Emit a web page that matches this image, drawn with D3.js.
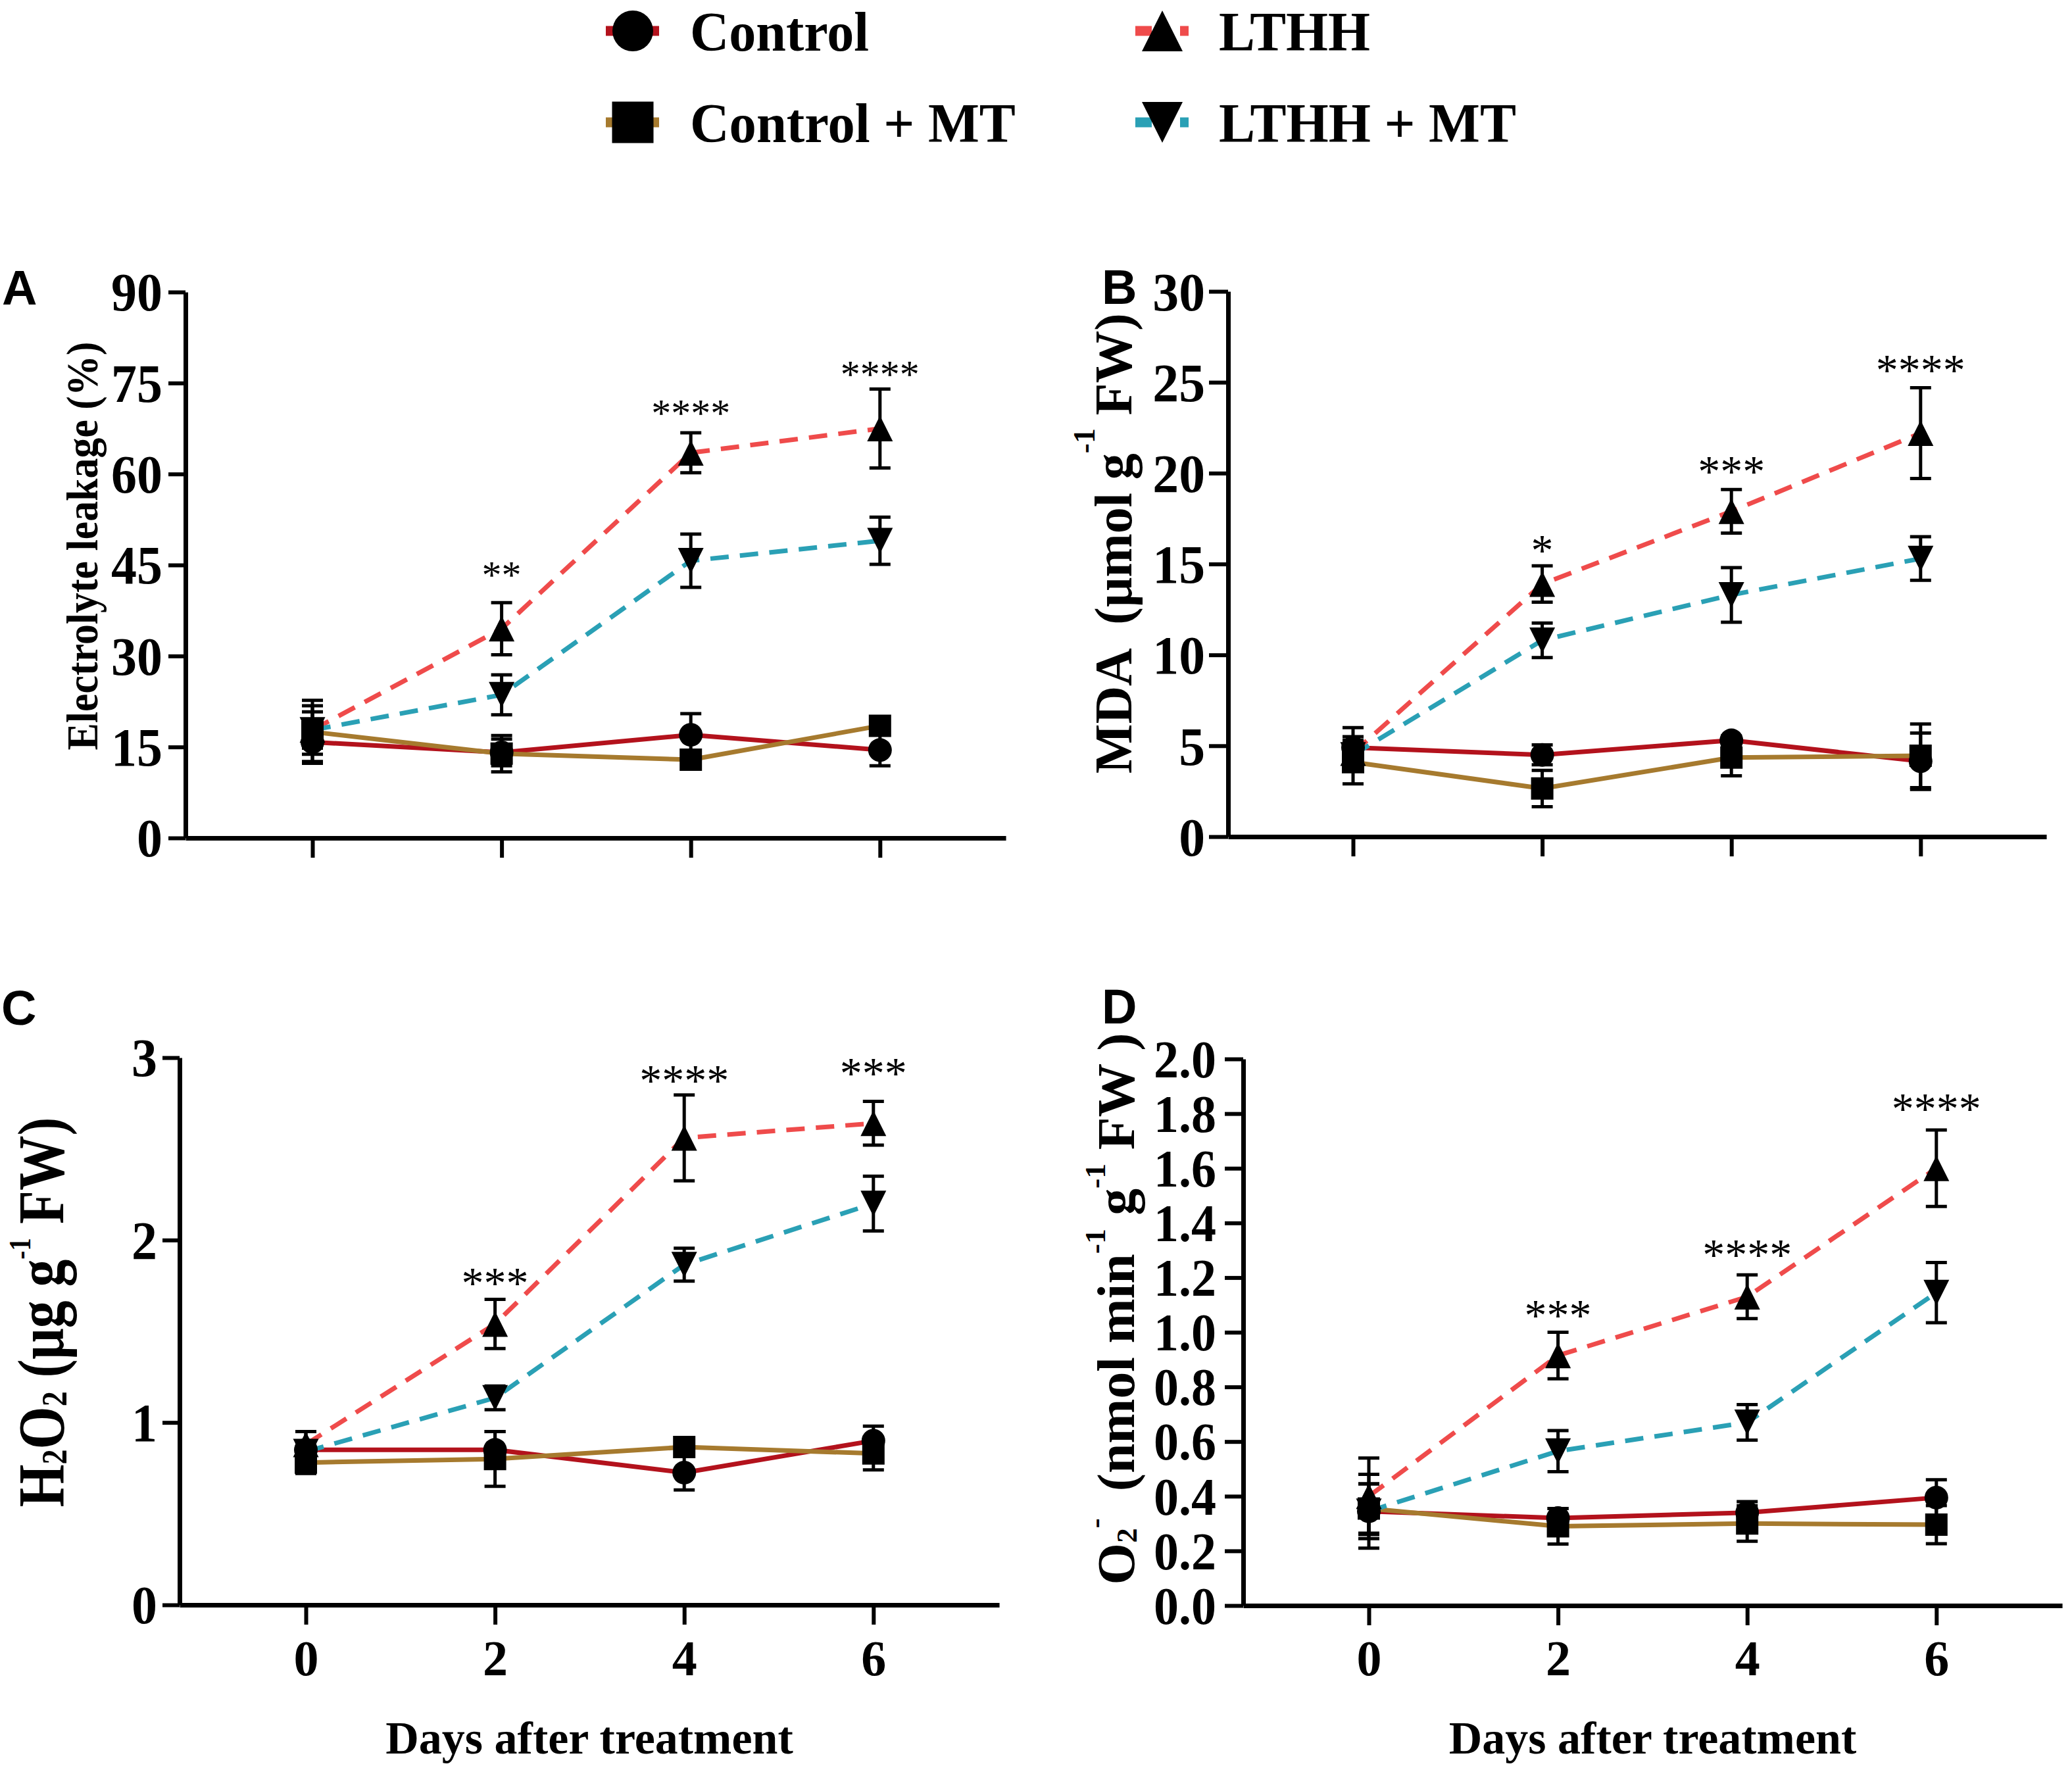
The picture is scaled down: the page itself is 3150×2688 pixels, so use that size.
<!DOCTYPE html>
<html>
<head>
<meta charset="utf-8">
<script src="https://cdn.jsdelivr.net/npm/d3@7"></script>
<style>
  html, body { margin: 0; padding: 0; background: #fff; }
  svg { display: block; }
</style>
</head>
<body>
<main></main>
<script>
// ---- data ----
const days = [0, 2, 4, 6];
const seriesNames = ["Control", "Control + MT", "LTHH", "LTHH + MT"];
const starDays = [2, 4, 6];

// A: electrolyte leakage (%), rows follow seriesNames
const leakageMean = [
  [15.8, 14.1, 17.0, 14.5],
  [17.5, 13.9, 12.9, 18.5],
  [17.8, 34.5, 63.5, 67.5],
  [17.8, 23.6, 45.7, 49.0]
];
const leakageErr = [
  [3.2, 2.2, 3.5, 2.6],
  [5.2, 3.0, 1.0, 1.5],
  [4.0, 4.3, 3.3, 6.5],
  [3.0, 3.3, 4.4, 3.9]
];
const leakageTicks = [0, 15, 30, 45, 60, 75, 90];
const leakageStars = ["**", "****", "****"];
const leakageStarLevels = [44.3, 70.9, 77.3];

// B: MDA (umol g-1 FW)
const mdaMean = [
  [4.9, 4.5, 5.3, 4.15],
  [4.1, 2.65, 4.35, 4.45],
  [4.6, 13.9, 17.9, 22.2],
  [4.5, 10.8, 13.3, 15.3]
];
const mdaErr = [
  [1.1, 0.55, 0.25, 1.55],
  [1.2, 1.0, 1.0, 1.75],
  [0.9, 1.0, 1.2, 2.5],
  [0.7, 0.95, 1.5, 1.2]
];
const mdaTicks = [0, 5, 10, 15, 20, 25, 30];
const mdaStars = ["*", "***", "****"];
const mdaStarLevels = [16.1, 20.45, 26.0];

// C: H2O2 (ug g-1 FW)
const h2o2Mean = [
  [0.85, 0.85, 0.725, 0.9],
  [0.78, 0.8, 0.865, 0.83],
  [0.88, 1.54, 2.56, 2.64],
  [0.84, 1.135, 1.865, 2.2]
];
const h2o2Err = [
  [0.1, 0.1, 0.095, 0.08],
  [0.06, 0.15, 0.04, 0.09],
  [0.07, 0.135, 0.235, 0.12],
  [0.05, 0.065, 0.09, 0.15]
];
const h2o2Ticks = [0, 1, 2, 3];
const h2o2Stars = ["***", "****", "***"];
const h2o2StarLevels = [1.80, 2.91, 2.95];

// D: O2- (nmol min-1 g-1 FW)
const o2Mean = [
  [0.345, 0.32, 0.34, 0.395],
  [0.355, 0.29, 0.30, 0.296],
  [0.40, 0.915, 1.13, 1.60],
  [0.345, 0.565, 0.67, 1.145]
];
const o2Err = [
  [0.1, 0.035, 0.04, 0.065],
  [0.09, 0.065, 0.065, 0.07],
  [0.14, 0.085, 0.08, 0.14],
  [0.135, 0.075, 0.065, 0.11]
];
const o2Ticks = [0, 0.2, 0.4, 0.6, 0.8, 1.0, 1.2, 1.4, 1.6, 1.8, 2.0];
const o2Stars = ["***", "****", "****"];
const o2StarLevels = [1.085, 1.307, 1.84];

// axis titles, split in normal / sub / sup pieces
const leakageTitle = [{ t: "Electrolyte leakage (%)" }];
const mdaTitle = [{ t: "MDA  (\u03bcmol g" }, { t: "-1", s: "sup" }, { t: " FW)" }];
const h2o2Title = [{ t: "H" }, { t: "2", s: "sub" }, { t: "O" }, { t: "2", s: "sub" },
                   { t: " (\u03bcg g" }, { t: "-1", s: "sup" }, { t: " FW)" }];
const o2Title = [{ t: "O" }, { t: "2", s: "sub" }, { t: "-", s: "sup" }, { t: "  (nmol min" },
                 { t: "-1", s: "sup" }, { t: " g" }, { t: "-1", s: "sup" }, { t: " FW )" }];
const xTitle = "Days after treatment";

// ---- styles ----
const seriesColor = ["#b3121c", "#a67a2e", "#ef4b4b", "#2aa0b5"];
const seriesDash = [null, null, "28,17", "28,17"];
const seriesShape = ["circle", "square", "triangle", "triangleDown"];
const serif = '"Liberation Serif", "Times New Roman", serif';
const sans = '"Liberation Sans", Arial, sans-serif';

const W = 3150, H = 2688;
const pxPerDay = 143.8;
const xEnd = 7.33;

const panels = [
  { letter: "A", mean: leakageMean, err: leakageErr, ticks: leakageTicks, stars: leakageStars, levels: leakageStarLevels,
    title: leakageTitle, left: 282, top: 444, bottom: 1274, day0: 475, letterX: 3, letterY: 463,
    tickLen: 26, labelGap: 35, labelSize: 82, labelSx: 0.95, fmt: d3.format("d"),
    titleX: 148, titleY: 830, titleSize: 68, titleLen: 621, supShift: 0.6, supSize: 0.58,
    starSize: 60, xLabels: false },
  { letter: "B", mean: mdaMean, err: mdaErr, ticks: mdaTicks, stars: mdaStars, levels: mdaStarLevels,
    title: mdaTitle, left: 1867, top: 443, bottom: 1272, day0: 2057, letterX: 1675, letterY: 462,
    tickLen: 29, labelGap: 35, labelSize: 83, labelSx: 0.96, fmt: d3.format("d"),
    titleX: 1720, titleY: 826, titleSize: 80, titleLen: 700, supShift: 0.7, supSize: 0.57,
    starSize: 68, xLabels: false },
  { letter: "C", mean: h2o2Mean, err: h2o2Err, ticks: h2o2Ticks, stars: h2o2Stars, levels: h2o2StarLevels,
    title: h2o2Title, left: 273, top: 1608, bottom: 2440, day0: 465, letterX: 2, letterY: 1558,
    tickLen: 26, labelGap: 34, labelSize: 82, labelSx: 0.95, fmt: d3.format("d"),
    titleX: 96, titleY: 1995, titleSize: 100, titleLen: 593, supShift: 0.5, supSize: 0.47,
    starSize: 68, xLabels: true },
  { letter: "D", mean: o2Mean, err: o2Err, ticks: o2Ticks, stars: o2Stars, levels: o2StarLevels,
    title: o2Title, left: 1890, top: 1610, bottom: 2441, day0: 2081, letterX: 1675, letterY: 1556,
    tickLen: 28, labelGap: 41, labelSize: 80, labelSx: 0.95, fmt: d3.format(".1f"),
    titleX: 1724, titleY: 1990, titleSize: 80, titleLen: 839, supShift: 0.55, supSize: 0.56,
    starSize: 68, xLabels: true }
];

function shapePath(shape, s) {
  const h = s / 2;
  if (shape === "circle") return d3.symbol(d3.symbolCircle, Math.PI * h * h)();
  if (shape === "square") return `M${-h},${-h}H${h}V${h}H${-h}Z`;
  if (shape === "triangle") return `M0,${-h}L${h},${h}L${-h},${h}Z`;
  return `M0,${h}L${h},${-h}L${-h},${-h}Z`;
}
const plotMarkerSize = [36, 34, 39, 39];

const svg = d3.select("main").append("svg")
  .attr("width", W).attr("height", H)
  .attr("viewBox", `0 0 ${W} ${H}`);

svg.append("rect").attr("width", W).attr("height", H).attr("fill", "#fff");

// rotated title with sub/superscripts, squeezed to the length seen in the figure
function rotatedTitle(g, p) {
  const size = p.titleSize;
  const text = g.append("text")
    .attr("xml:space", "preserve")
    .style("white-space", "pre")
    .attr("text-anchor", "middle")
    .attr("font-family", serif)
    .attr("font-weight", "bold")
    .attr("font-size", size);
  let shift = 0;
  p.title.forEach(part => {
    let target = 0, fs = size;
    if (part.s === "sub") { target = 0.05 * size; fs = 0.55 * size; }
    if (part.s === "sup") { target = -p.supShift * size; fs = p.supSize * size; }
    text.append("tspan")
      .attr("dy", target - shift)
      .attr("font-size", fs)
      .text(part.t);
    shift = target;
  });
  const sx = p.titleLen / text.node().getComputedTextLength();
  text.attr("transform", `translate(${p.titleX},${p.titleY}) rotate(-90) scale(${sx},1)`);
}

panels.forEach(p => {
  const g = svg.append("g").attr("class", "panel");

  const x = d3.scaleLinear()
    .domain([(p.left - p.day0) / pxPerDay, xEnd])
    .range([p.left, p.day0 + xEnd * pxPerDay]);
  const y = d3.scaleLinear()
    .domain([0, d3.max(p.ticks)])
    .range([p.bottom, p.top]);

  // lines
  const line = d3.line().x((d, i) => x(days[i])).y(d => y(d));
  p.mean.forEach((m, si) => {
    g.append("path")
      .attr("d", line(m))
      .attr("fill", "none")
      .attr("stroke", seriesColor[si])
      .attr("stroke-width", 7)
      .attr("stroke-dasharray", seriesDash[si])
      .attr("stroke-linejoin", "round");
  });

  // error bars
  p.mean.forEach((m, si) => {
    m.forEach((v, di) => {
      const e = p.err[si][di];
      const cx = x(days[di]), y1 = y(v + e), y2 = y(v - e);
      g.append("path")
        .attr("d", `M${cx},${y1}V${y2}M${cx - 16},${y1}H${cx + 16}M${cx - 16},${y2}H${cx + 16}`)
        .attr("fill", "none")
        .attr("stroke", "#000")
        .attr("stroke-width", 5);
    });
  });

  // markers
  p.mean.forEach((m, si) => {
    g.selectAll(null)
      .data(m)
      .enter()
      .append("path")
      .attr("d", shapePath(seriesShape[si], plotMarkerSize[si]))
      .attr("transform", (d, i) => `translate(${x(days[i])},${y(d)})`)
      .attr("fill", "#000");
  });

  // significance stars
  g.selectAll(null)
    .data(p.stars)
    .enter()
    .append("text")
    .attr("x", (d, i) => x(starDays[i]))
    .attr("y", (d, i) => y(p.levels[i]) + 0.47 * p.starSize)
    .attr("text-anchor", "middle")
    .attr("font-family", serif)
    .attr("font-size", p.starSize)
    .text(d => d);

  // axes
  const yAxis = d3.axisLeft(y).tickValues(p.ticks).tickSize(p.tickLen).tickSizeOuter(0).tickFormat(p.fmt);
  const ya = g.append("g").attr("transform", `translate(${p.left},0)`).call(yAxis);
  ya.select(".domain").attr("stroke-width", 7);
  ya.selectAll(".tick line").attr("stroke-width", 6);
  ya.selectAll(".tick text")
    .attr("x", 0)
    .attr("dy", "0.34em")
    .attr("transform", `translate(${-p.labelGap},0) scale(${p.labelSx},1)`)
    .attr("font-family", serif)
    .attr("font-weight", "bold")
    .attr("font-size", p.labelSize)
    .attr("fill", "#000");

  const xAxis = d3.axisBottom(x).tickValues(days).tickSize(30).tickSizeOuter(0)
    .tickFormat(p.xLabels ? d3.format("d") : "");
  const xa = g.append("g").attr("transform", `translate(0,${p.bottom})`).call(xAxis);
  xa.select(".domain").attr("stroke-width", 7);
  xa.selectAll(".tick line").attr("stroke-width", 6);
  xa.selectAll(".tick text")
    .attr("y", 2547 - p.bottom)
    .attr("dy", 0)
    .attr("font-family", serif)
    .attr("font-weight", "bold")
    .attr("font-size", 76)
    .attr("fill", "#000");

  if (p.xLabels) {
    g.append("text")
      .attr("x", (p.left + x.range()[1]) / 2)
      .attr("y", 2666)
      .attr("text-anchor", "middle")
      .attr("font-family", serif)
      .attr("font-weight", "bold")
      .attr("font-size", 70)
      .text(xTitle);
  }

  rotatedTitle(g, p);

  g.append("text")
    .attr("x", p.letterX)
    .attr("y", p.letterY)
    .attr("font-family", sans)
    .attr("font-weight", "bold")
    .attr("font-size", 74)
    .text(p.letter);
});

// ---- legend ----
const legendX = [962, 962, 1767, 1767];
const legendY = [47, 186, 47, 186];
const legendTextX = [1049, 1049, 1853, 1853];
const legendTextLen = [272, 495, 230, 452];
const legendMarkerSize = [62, 63, 62, 62];

const legend = svg.append("g").attr("class", "legend");
seriesNames.forEach((name, i) => {
  legend.append("line")
    .attr("x1", legendX[i] - 41).attr("x2", legendX[i] + 40)
    .attr("y1", legendY[i]).attr("y2", legendY[i])
    .attr("stroke", seriesColor[i])
    .attr("stroke-width", 15)
    .attr("stroke-dasharray", i > 1 ? "25,43" : null);
  legend.append("path")
    .attr("d", shapePath(seriesShape[i], legendMarkerSize[i]))
    .attr("transform", `translate(${legendX[i]},${legendY[i]})`)
    .attr("fill", "#000");
  const t = legend.append("text")
    .attr("xml:space", "preserve")
    .style("white-space", "pre")
    .attr("font-family", serif)
    .attr("font-weight", "bold")
    .attr("font-size", 84)
    .text(name);
  const sx = legendTextLen[i] / t.node().getComputedTextLength();
  t.attr("transform", `translate(${legendTextX[i]},${legendY[i] + 30}) scale(${sx},1)`);
});
</script>
</body>
</html>
